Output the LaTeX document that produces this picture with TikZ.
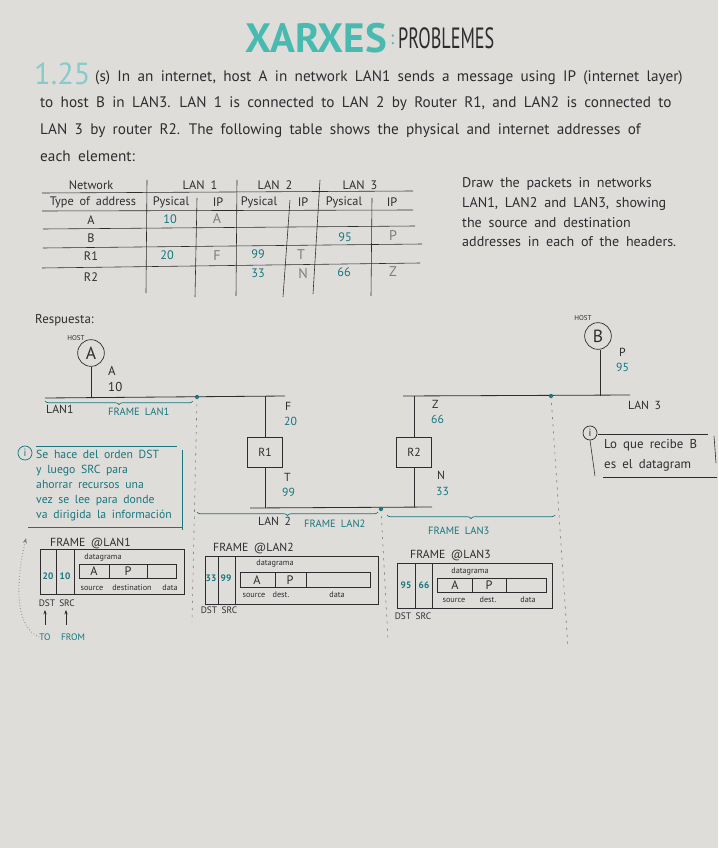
\documentclass[tikz,border=0pt]{standalone}
\usepackage{fontspec}
\setmainfont{PT Sans}[WordSpace=1.8]
\usetikzlibrary{positioning, arrows.meta, decorations.pathreplacing, calc}

\definecolor{paper}{RGB}{223,221,218}
\definecolor{ink}{RGB}{45,45,48}
\definecolor{tealink}{RGB}{22,118,124}
\definecolor{titleteal}{RGB}{72,186,176}
\definecolor{numteal}{RGB}{135,202,204}
\definecolor{pencil}{RGB}{125,125,125}

\begin{document}
\begin{tikzpicture}[
  x=0.03cm, y=-0.03cm,
  font=\fontsize{11}{13}\selectfont,
  txt/.style={inner sep=0pt, anchor=west, text=ink},
  cell/.style={inner sep=0pt, anchor=center, text=ink, font=\fontsize{10.5}{12}\selectfont},
  tealval/.style={cell, text=tealink},
  ipval/.style={cell, text=pencil, font=\fontsize{12}{12}\selectfont},
  small/.style={inner sep=0pt, anchor=center, text=ink, font=\fontsize{7}{8}\selectfont},
  rule/.style={draw=ink, line width=0.5pt},
  lanline/.style={draw=ink, line width=0.7pt},
  host/.style={circle, draw=ink, line width=0.6pt, minimum size=0.8cm, inner sep=0pt, font=\fontsize{15}{15}\selectfont, text=ink},
  router/.style={rectangle, draw=ink, line width=0.6pt, minimum width=1.05cm, minimum height=0.9cm, font=\fontsize{10}{10}\selectfont, text=ink},
  framebrace/.style={draw=tealink, line width=0.6pt, decorate, decoration={brace, amplitude=3pt, mirror}},
  divider/.style={draw=pencil, line width=0.5pt, dash pattern=on 2pt off 4pt},
  pkt/.style={draw=ink, line width=0.6pt},
  info/.style={circle, draw, line width=0.6pt, inner sep=0pt, minimum size=0.42cm, font=\fontsize{9}{9}\selectfont},
  arr/.style={-{Stealth[length=1.6mm]}, line width=0.5pt}
]
  \path[fill=paper] (0,0) rectangle (718,848);

  % title
  \node[txt, anchor=east, text=titleteal, font=\fontsize{35}{35}\bfseries] (ttl) at (387,38) {XARXES};
  \node[txt, text=titleteal, font=\fontsize{16}{16}\selectfont] (colon) at (390,40) {:};
  \node[txt, font=\fontsize{25}{25}\selectfont] (ttl2) at (398,38) {\scalebox{0.62}[1]{PROBLEMES}};

  % statement
  \node[txt, text=numteal, font=\fontsize{26}{26}\selectfont] (num) at (34,74) {1.25};
  \node[txt, font=\fontsize{13}{15}\selectfont] (l1) at (95,78) {(s) In an internet, host A in network LAN1 sends a message using IP (internet layer)};
  \node[txt, font=\fontsize{13}{15}\selectfont] (l2) at (40,104) {to host B in LAN3. LAN 1 is connected to LAN 2 by Router R1, and LAN2 is connected to};
  \node[txt, font=\fontsize{13}{15}\selectfont] (l3) at (40,131) {LAN 3 by router R2. The following table shows the physical and internet addresses of};
  \node[txt, font=\fontsize{13}{15}\selectfont] (l4) at (40,156) {each element:};

  % table of addresses
  \draw[rule] (42,193) -- (413,191);
  \draw[rule] (42,211) -- (413,210);
  \draw[rule] (43,229) -- (415,226);
  \draw[rule] (43,248) -- (422,244);
  \draw[rule] (42,268) -- (420,263);
  \draw[rule] (147,180) -- (146,293);
  \draw[rule] (197,198) -- (195,297);
  \draw[rule] (237,180) -- (236,296);
  \draw[rule] (290,200) -- (283,297);
  \draw[rule] (320,180) -- (313,294);
  \draw[rule] (372,198) -- (371,296);
  \node[cell] (hnet) at (91,185) {Network};
  \node[cell] (hlan1) at (200,185) {LAN 1};
  \node[cell] (hlan2) at (275,185) {LAN 2};
  \node[cell] (hlan3) at (360,185) {LAN 3};
  \node[cell] (htype) at (93,202) {Type of address};
  \node[cell] (hp1) at (171,202) {Pysical};
  \node[cell] (hi1) at (218,202) {IP};
  \node[cell] (hp2) at (259,202) {Pysical};
  \node[cell] (hi2) at (303,202) {IP};
  \node[cell] (hp3) at (344,202) {Pysical};
  \node[cell] (hi3) at (392,202) {IP};
  \node[cell] (ra) at (91,220) {A};
  \node[cell] (rb) at (91,238) {B};
  \node[cell] (rr1) at (91,256) {R1};
  \node[cell] (rr2) at (91,277) {R2};
  \node[tealval] (va1) at (170,219) {10};
  \node[ipval] (ia1) at (217,219) {A};
  \node[tealval] (vb3) at (345,237) {95};
  \node[ipval] (ib3) at (393,236) {P};
  \node[tealval] (vr11) at (167,255) {20};
  \node[ipval] (ir11) at (217,256) {F};
  \node[tealval] (vr12) at (258,254) {99};
  \node[ipval] (ir12) at (301,255) {T};
  \node[tealval] (vr22) at (258,273) {33};
  \node[ipval] (ir22) at (303,274) {N};
  \node[tealval] (vr23) at (344,272) {66};
  \node[ipval] (ir23) at (393,272) {Z};

  % task
  \node[txt, align=left, anchor=north west, font=\fontsize{12}{17}\selectfont] (task) at (462,177)
    {Draw the packets in networks\\LAN1, LAN2 and LAN3, showing\\the source and destination\\addresses in each of the headers.};

  % answer: network
  \node[txt] (resp) at (35,320) {Respuesta:};
  \node[host] (hostA) at (91,353) {A};
  \node[small, font=\fontsize{6}{6}\selectfont] (hostAlbl) at (76,338) {HOST};
  \node[host] (hostB) at (598,336) {B};
  \node[small, font=\fontsize{6}{6}\selectfont] (hostBlbl) at (583,318) {HOST};
  \node[router] (r1) at (265,452) {R1};
  \node[router] (r2) at (414,452) {R2};

  \coordinate (lan1w) at (45,398);
  \coordinate (lan1e) at (285,396);
  \coordinate (lan2w) at (250,508);
  \coordinate (lan2e) at (432,507);
  \coordinate (lan3w) at (403,396);
  \coordinate (lan3e) at (630,395);
  \draw[lanline] (lan1w) -- (lan1e);
  \draw[lanline] (lan2w) -- (lan2e);
  \draw[lanline] (lan3w) -- (lan3e);
  \draw[lanline] (hostA) -- (hostA |- lan1w);
  \draw[lanline] (hostB.south) ++(2,0) -- (600,396);
  \draw[lanline] (r1.north) -- (r1.north |- lan1e);
  \draw[lanline] (r1.south) -- (r1.south |- lan2w);
  \draw[lanline] (r2.north) -- (r2.north |- lan3w);
  \draw[lanline] (r2.south) -- (r2.south |- lan2e);

  \node[txt] (ipA) at (108,371) {A};
  \node[txt] (phA) at (108,387) {10};
  \node[txt, font=\fontsize{10}{10}\selectfont] (ipF) at (285,406) {F};
  \node[txt, text=tealink, font=\fontsize{10}{10}\selectfont] (phF) at (284,421) {20};
  \node[txt, font=\fontsize{10}{10}\selectfont] (ipT) at (284,477) {T};
  \node[txt, text=tealink, font=\fontsize{10}{10}\selectfont] (phT) at (282,492) {99};
  \node[txt, font=\fontsize{10}{10}\selectfont] (ipZ) at (432,404) {Z};
  \node[txt, text=tealink, font=\fontsize{10}{10}\selectfont] (phZ) at (431,419) {66};
  \node[txt, font=\fontsize{10}{10}\selectfont] (ipN) at (437,475) {N};
  \node[txt, text=tealink, font=\fontsize{10}{10}\selectfont] (phN) at (436,491) {33};
  \node[txt, font=\fontsize{10}{10}\selectfont] (ipP) at (619,352) {P};
  \node[txt, text=tealink, font=\fontsize{10}{10}\selectfont] (phP) at (616,367) {95};

  \node[txt, font=\fontsize{10}{10}\selectfont] (lbl1) at (46,409) {LAN1};
  \node[txt, font=\fontsize{10}{10}\selectfont] (lbl2) at (258,521) {LAN 2};
  \node[txt, font=\fontsize{10}{10}\selectfont] (lbl3) at (628,405) {LAN 3};

  % frames on each segment
  \coordinate (cut1) at (197,397);
  \coordinate (cut2) at (381,509);
  \coordinate (cut3) at (551,396);
  \fill[tealink] (cut1) circle (1.8pt);
  \fill[tealink] (cut2) circle (1.8pt);
  \fill[tealink] (cut3) circle (1.8pt);
  \draw[divider] (cut1) -- (192,622);
  \draw[divider] (cut2) -- (388,640);
  \draw[divider] (cut3) -- (568,648);
  \draw[framebrace] (45,401) -- (193,401);
  \draw[framebrace] (197,512) -- (378,512);
  \draw[framebrace] (387,515) -- (555,515);
  \node[txt, text=tealink, font=\fontsize{9}{9}\selectfont] (fr1) at (108,412) {FRAME LAN1};
  \node[txt, text=tealink, font=\fontsize{9}{9}\selectfont] (fr2) at (304,524) {FRAME LAN2};
  \node[txt, text=tealink, font=\fontsize{9}{9}\selectfont] (fr3) at (428,531) {FRAME LAN3};

  % notes
  \node[info, draw=tealink, text=tealink] (info1) at (25,453) {i};
  \draw[tealink, line width=0.6pt] (36,446) -- (177,446);
  \draw[tealink, line width=0.6pt] (182,450) -- (182,530);
  \draw[tealink, line width=0.6pt] (28,527) -- (182,527);
  \node[txt, anchor=north west, align=left, text=tealink, font=\fontsize{10}{12.8}\selectfont] (note1) at (36,450)
    {Se hace del orden DST\\y luego SRC para\\ahorrar recursos una\\vez se lee para donde\\va dirigida la información};

  \node[info, draw=ink, text=ink] (info2) at (590,433) {i};
  \draw[ink, line width=0.5pt] (598,434) -- (708,434);
  \draw[ink, line width=0.5pt] (714,436) -- (716,463);
  \draw[ink, line width=0.5pt] (603,477) -- (717,477);
  \draw[ink, line width=0.5pt] (info2.south) -- (595,476);
  \node[txt, anchor=north west, align=left, font=\fontsize{11}{17}\selectfont] (note2) at (604,439)
    {Lo que recibe B\\es el datagram};

  % frame @LAN1
  \node[txt, font=\fontsize{10}{10}\selectfont] (ft1) at (50,543) {FRAME @LAN1};
  \draw[pkt] (40,549) rectangle (184,594);
  \draw[pkt] (56,549) -- (56,594);
  \draw[pkt] (74,549) -- (74,594);
  \draw[pkt] (79,564) rectangle (176,578);
  \draw[pkt] (109,564) -- (109,578);
  \draw[pkt] (147,564) -- (147,578);
  \node[tealval, font=\fontsize{8}{8}\bfseries] (d1) at (48,576) {20};
  \node[tealval, font=\fontsize{8}{8}\bfseries] (s1) at (65,576) {10};
  \node[small] (dg1) at (103,557) {datagrama};
  \node[cell] (a1) at (94,571) {A};
  \node[cell] (p1) at (128,571) {P};
  \node[small] (src1) at (92,588) {source};
  \node[small] (dst1) at (132,588) {destination};
  \node[small] (dat1) at (170,588) {data};
  \node[small, font=\fontsize{8}{8}\selectfont] (lb1) at (47,603) {DST};
  \node[small, font=\fontsize{8}{8}\selectfont] (lb2) at (67,603) {SRC};
  \node[small, text=tealink, font=\fontsize{8}{8}\selectfont] (to) at (45,637) {TO};
  \node[small, text=tealink, font=\fontsize{8}{8}\selectfont] (from) at (73,637) {FROM};
  \draw[arr, ink, -{Stealth[length=1.3mm]}] (45,625) -- (45,610);
  \draw[arr, ink, -{Stealth[length=1.3mm]}] (66,625) -- (66,610);
  \draw[arr, pencil, dotted, line width=0.8pt] (to.west) .. controls (17,628) and (14,590) .. (26,538);

  % frame @LAN2
  \node[txt, font=\fontsize{10}{10}\selectfont] (ft2) at (213,548) {FRAME @LAN2};
  \draw[pkt] (205,556) rectangle (378,604);
  \draw[pkt] (218,556) -- (218,604);
  \draw[pkt] (235,556) -- (235,604);
  \draw[pkt] (240,572) rectangle (370,587);
  \draw[pkt] (275,572) -- (275,587);
  \draw[pkt] (306,572) -- (306,587);
  \node[tealval, font=\fontsize{8}{8}\bfseries] (d2) at (211,578) {33};
  \node[tealval, font=\fontsize{8}{8}\bfseries] (s2) at (226,578) {99};
  \node[small] (dg2) at (275,563) {datagrama};
  \node[cell] (a2) at (257,580) {A};
  \node[cell] (p2) at (290,580) {P};
  \node[small] (src2) at (254,595) {source};
  \node[small] (dst2) at (281,595) {dest.};
  \node[small] (dat2) at (337,595) {data};
  \node[small, font=\fontsize{8}{8}\selectfont] (lb3) at (219,610) {DST SRC};

  % frame @LAN3
  \node[txt, font=\fontsize{10}{10}\selectfont] (ft3) at (410,555) {FRAME @LAN3};
  \draw[pkt] (397,563) rectangle (552,608);
  \draw[pkt] (415,563) -- (415,608);
  \draw[pkt] (432,563) -- (432,608);
  \draw[pkt] (437,578) rectangle (546,592);
  \draw[pkt] (472,578) -- (472,592);
  \draw[pkt] (506,578) -- (506,592);
  \node[tealval, font=\fontsize{8}{8}\bfseries] (d3) at (406,585) {95};
  \node[tealval, font=\fontsize{8}{8}\bfseries] (s3) at (424,585) {66};
  \node[small] (dg3) at (470,571) {datagrama};
  \node[cell] (a3) at (455,585) {A};
  \node[cell] (p3) at (489,585) {P};
  \node[small] (src3) at (454,600) {source};
  \node[small] (dst3) at (488,600) {dest.};
  \node[small] (dat3) at (528,600) {data};
  \node[small, font=\fontsize{8}{8}\selectfont] (lb4) at (413,616) {DST SRC};
\end{tikzpicture}
\end{document}
